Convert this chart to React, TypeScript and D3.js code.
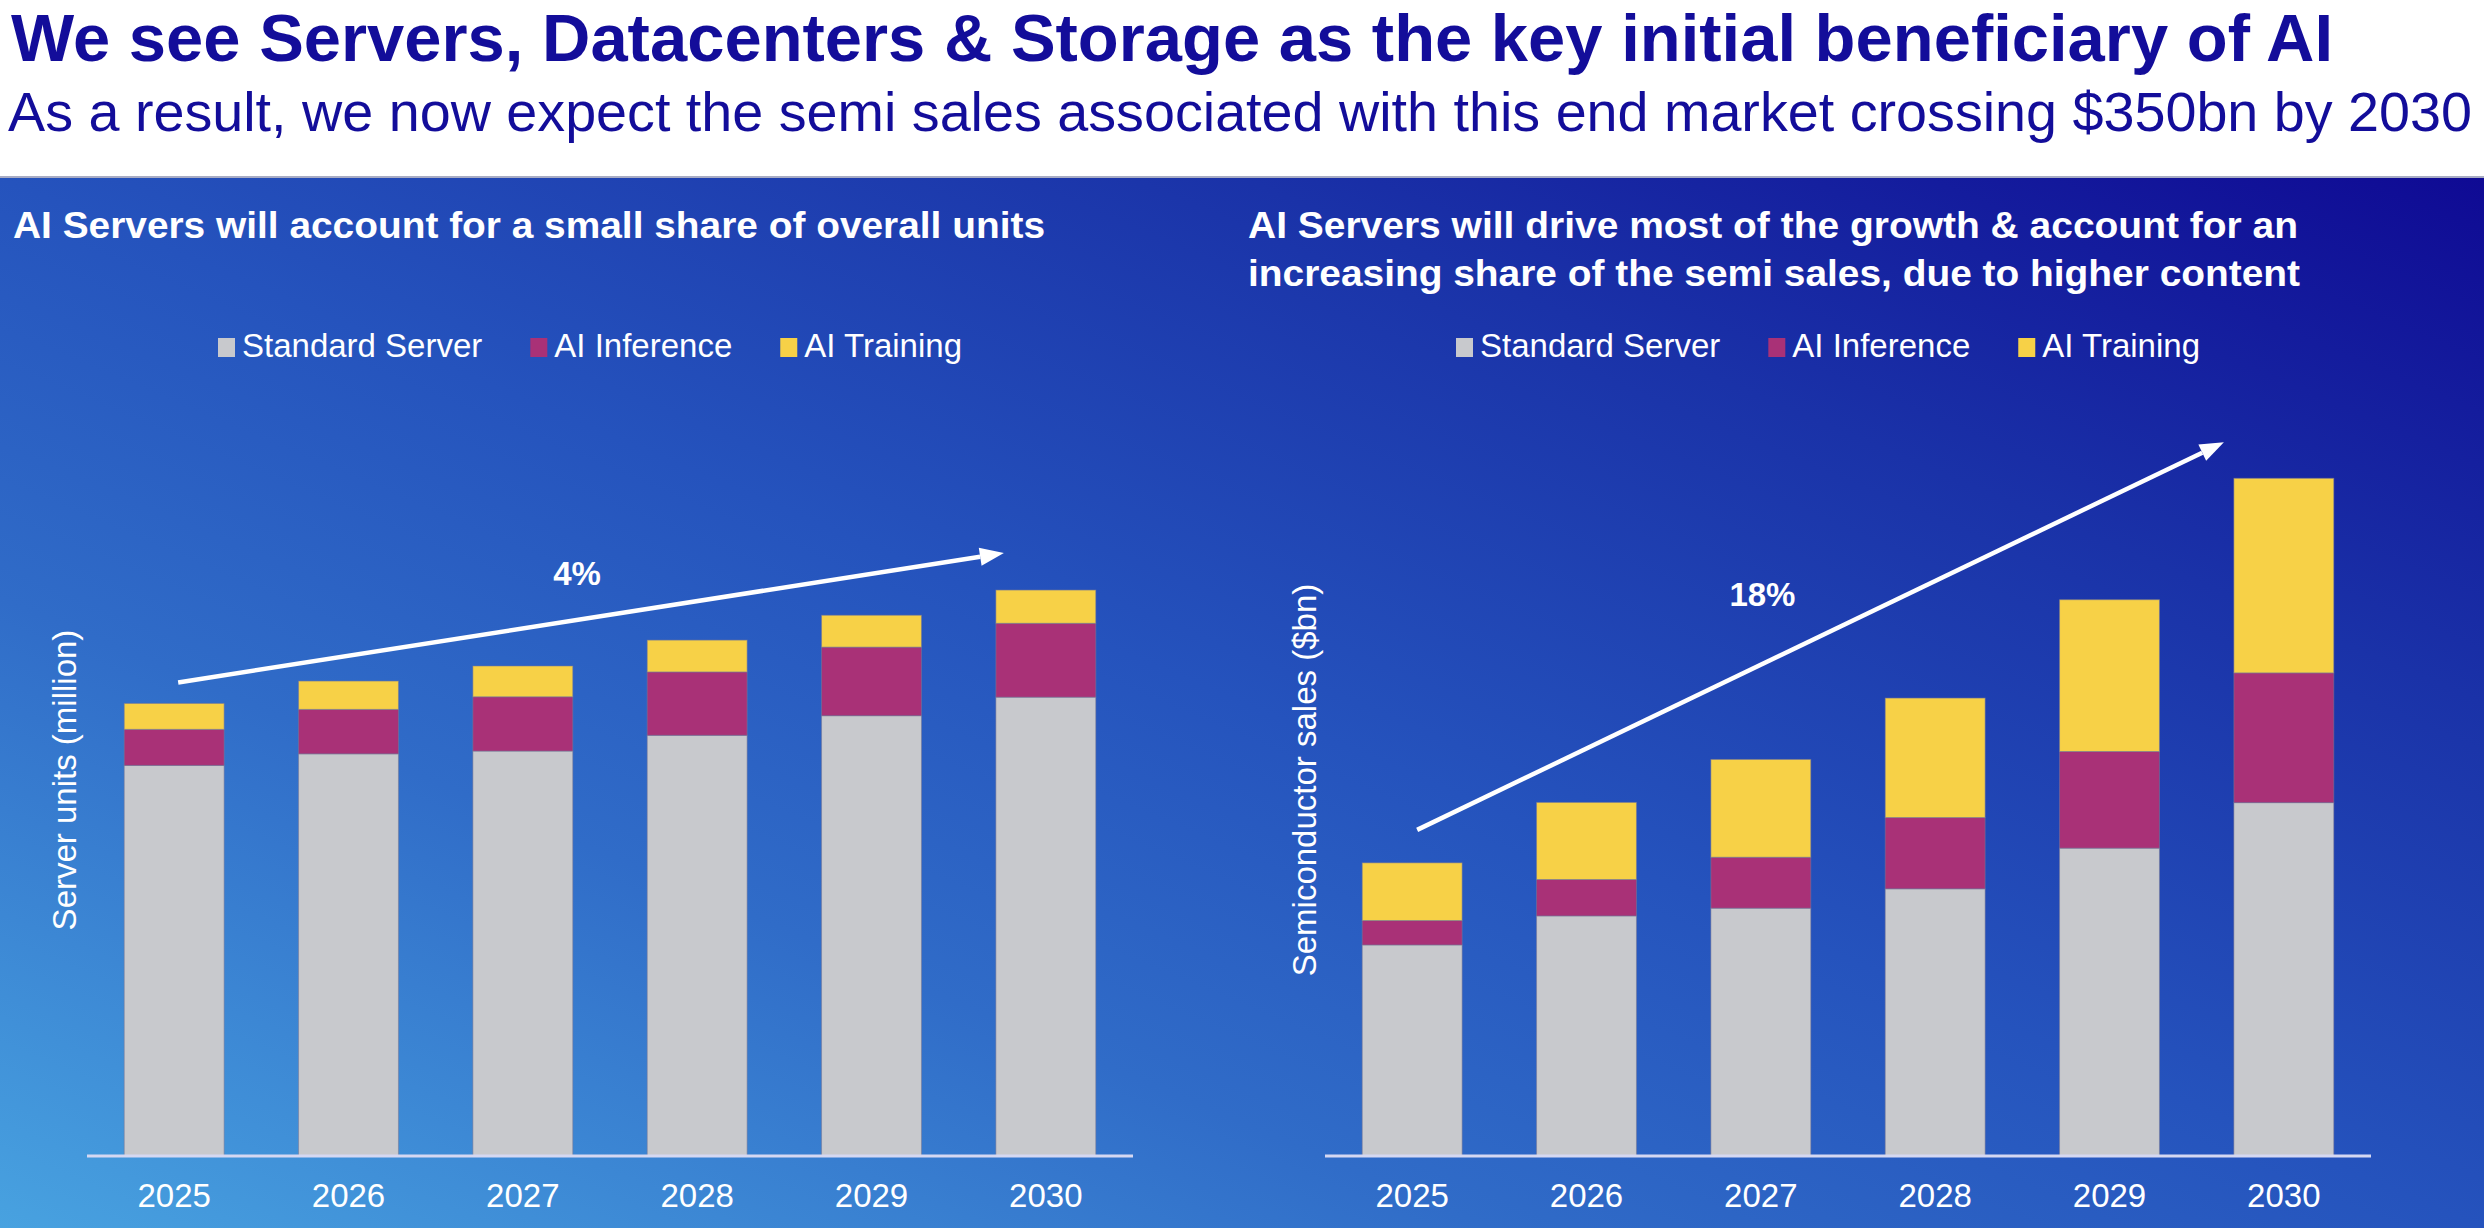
import { useEffect, useRef } from "react";
import * as d3 from "d3";

const W = 2484;
const H = 1228;

const years = ["2025", "2026", "2027", "2028", "2029", "2030"];
const seriesNames = ["Standard Server", "AI Inference", "AI Training"];
const seriesColors = ["#c8c9cd", "#a93177", "#f7d147"];

// Server units (million)
const unitsStandard = [11.16, 11.49, 11.57, 12.02, 12.58, 13.11];
const unitsInference = [1.03, 1.27, 1.55, 1.81, 1.96, 2.11];
const unitsTraining = [0.74, 0.81, 0.88, 0.91, 0.91, 0.95];

// Semiconductor sales ($bn)
const salesStandard = [109, 124, 128, 138, 159, 182.5];
const salesInference = [12.6, 18.8, 26.3, 36.8, 49.9, 67];
const salesTraining = [29.8, 39.8, 50.5, 61.7, 78.4, 100.5];

const FONT = "'Liberation Sans', Arial, Helvetica, sans-serif";

interface Panel {
  x0: number;
  x1: number;
  yMax: number;
  plotH: number;
  stacks: number[][];
  subtitle: [string, number][];
  subX: number;
  yLabel: string;
  yLabelX: number;
  cagr: string;
  arrowStart: [number, number];
  arrowEnd: [number, number];
  cagrPos: [number, number];
}

export default function App() {
  const svgRef = useRef<SVGSVGElement>(null);

  useEffect(() => {
    if (!svgRef.current) return;
    const svg = d3.select(svgRef.current);
    svg.selectAll("*").remove();

    const defs = svg.append("defs");
    const grad = defs
      .append("linearGradient")
      .attr("id", "bg")
      .attr("x1", 0)
      .attr("y1", 1)
      .attr("x2", 1)
      .attr("y2", 0);
    [
      [0, "#48a2e0"],
      [0.3, "#306cc8"],
      [0.5, "#2553bd"],
      [0.75, "#1a32a8"],
      [1, "#0f0a94"],
    ].forEach(([o, c]) =>
      grad.append("stop").attr("offset", o as number).attr("stop-color", c as string)
    );

    // header
    svg.append("rect").attr("width", W).attr("height", 178).attr("fill", "#fff");
    svg
      .append("rect")
      .attr("y", 178)
      .attr("width", W)
      .attr("height", H - 178)
      .attr("fill", "url(#bg)");
    svg
      .append("rect")
      .attr("y", 176)
      .attr("width", W)
      .attr("height", 2)
      .attr("fill", "#a8acc4");

    svg
      .append("text")
      .attr("x", 11)
      .attr("y", 61)
      .attr("font-family", FONT)
      .attr("font-weight", "bold")
      .attr("font-size", 67)
      .attr("textLength", 2322)
      .attr("lengthAdjust", "spacingAndGlyphs")
      .attr("fill", "#130d9a")
      .text("We see Servers, Datacenters & Storage as the key initial beneficiary of AI");
    svg
      .append("text")
      .attr("x", 8)
      .attr("y", 131)
      .attr("font-family", FONT)
      .attr("font-size", 55)
      .attr("textLength", 2464)
      .attr("lengthAdjust", "spacingAndGlyphs")
      .attr("fill", "#130d9a")
      .text(
        "As a result, we now expect the semi sales associated with this end market crossing $350bn by 2030"
      );

    const baseY = 1156;

    const panels: Panel[] = [
      {
        x0: 87,
        x1: 1133,
        yMax: 20,
        plotH: 700,
        stacks: [unitsStandard, unitsInference, unitsTraining],
        subtitle: [["AI Servers will account for a small share of overall units", 1032]],
        subX: 13,
        yLabel: "Server units (million)",
        yLabelX: 76,
        cagr: "4%",
        arrowStart: [4, -21],
        arrowEnd: [8, -37],
        cagrPos: [0.483, -46],
      },
      {
        x0: 1325,
        x1: 2371,
        yMax: 400,
        plotH: 774.5,
        stacks: [salesStandard, salesInference, salesTraining],
        subtitle: [
          ["AI Servers will drive most of the growth & account for an", 1050],
          ["increasing share of the semi sales, due to higher content", 1052],
        ],
        subX: 1248,
        yLabel: "Semiconductor sales ($bn)",
        yLabelX: 1316,
        cagr: "18%",
        arrowStart: [5, -33],
        arrowEnd: [-10, -36],
        cagrPos: [0.428, -70],
      },
    ];

    panels.forEach((p) => {
      const g = svg.append("g");

      const x = d3
        .scaleBand<string>()
        .domain(years)
        .range([p.x0, p.x1])
        .paddingInner(0.427)
        .paddingOuter(0.2135);
      const y = d3
        .scaleLinear()
        .domain([0, p.yMax])
        .range([baseY, baseY - p.plotH]);

      // panel subtitle
      p.subtitle.forEach(([line, len], i) => {
        g.append("text")
          .attr("x", p.subX)
          .attr("y", 238 + i * 48)
          .attr("font-family", FONT)
          .attr("font-weight", "bold")
          .attr("font-size", 37)
          .attr("textLength", len)
          .attr("lengthAdjust", "spacingAndGlyphs")
          .attr("fill", "#fff")
          .text(line);
      });

      // legend
      let lx = p.x0 + 131;
      seriesNames.forEach((name, i) => {
        g.append("rect")
          .attr("x", lx)
          .attr("y", 338)
          .attr("width", 17)
          .attr("height", 19)
          .attr("fill", seriesColors[i]);
        const t = g
          .append("text")
          .attr("x", lx + 24)
          .attr("y", 357)
          .attr("font-family", FONT)
          .attr("font-size", 33)
          .attr("fill", "#fff")
          .text(name);
        const tw = (t.node() as SVGTextElement).getComputedTextLength();
        lx += 24 + tw + 48;
      });

      // stacked bars
      const rows = years.map((yr, i) => {
        const r: Record<string, number | string> = { year: yr };
        seriesNames.forEach((s, k) => (r[s] = p.stacks[k][i]));
        return r;
      });
      const stacked = d3.stack<Record<string, number | string>>().keys(seriesNames)(
        rows as any
      );
      stacked.forEach((layer, k) => {
        g.selectAll(null)
          .data(layer)
          .join("rect")
          .attr("x", (d) => x(d.data.year as string)!)
          .attr("y", (d) => y(d[1]))
          .attr("width", x.bandwidth())
          .attr("height", (d) => y(d[0]) - y(d[1]))
          .attr("fill", seriesColors[k])
          .attr("stroke", "rgba(120,120,150,0.55)")
          .attr("stroke-width", 1);
      });

      // baseline
      g.append("line")
        .attr("x1", p.x0)
        .attr("x2", p.x1)
        .attr("y1", baseY)
        .attr("y2", baseY)
        .attr("stroke", "#d5d8f2")
        .attr("stroke-width", 3);

      // year labels
      g.selectAll(null)
        .data(years)
        .join("text")
        .attr("x", (d) => x(d)! + x.bandwidth() / 2)
        .attr("y", 1207)
        .attr("text-anchor", "middle")
        .attr("font-family", FONT)
        .attr("font-size", 33)
        .attr("fill", "#fff")
        .text((d) => d);

      // y axis title
      g.append("text")
        .attr("transform", `translate(${p.yLabelX},${780}) rotate(-90)`)
        .attr("text-anchor", "middle")
        .attr("font-family", FONT)
        .attr("font-size", 33)
        .attr("fill", "#fff")
        .text(p.yLabel);

      // growth arrow
      const totals = years.map((_, i) => d3.sum(p.stacks, (s) => s[i]));
      const first = years[0];
      const last = years[years.length - 1];
      const sx = x(first)! + x.bandwidth() / 2 + p.arrowStart[0];
      const sy = y(totals[0]) + p.arrowStart[1];
      const ex = x(last)! + p.arrowEnd[0];
      const ey = y(totals[totals.length - 1]) + p.arrowEnd[1];
      const ang = Math.atan2(ey - sy, ex - sx);
      const headL = 24;
      const headW = 9;
      const bx = ex - headL * Math.cos(ang);
      const by = ey - headL * Math.sin(ang);
      g.append("line")
        .attr("x1", sx)
        .attr("y1", sy)
        .attr("x2", bx)
        .attr("y2", by)
        .attr("stroke", "#fff")
        .attr("stroke-width", 4.5);
      const nx = -Math.sin(ang);
      const ny = Math.cos(ang);
      g.append("path")
        .attr(
          "d",
          `M${ex},${ey}L${bx + nx * headW},${by + ny * headW}L${bx - nx * headW},${
            by - ny * headW
          }Z`
        )
        .attr("fill", "#fff");

      const lt = p.cagrPos[0];
      g.append("text")
        .attr("x", sx + (ex - sx) * lt)
        .attr("y", sy + (ey - sy) * lt + p.cagrPos[1])
        .attr("dy", "0.35em")
        .attr("text-anchor", "middle")
        .attr("font-family", FONT)
        .attr("font-weight", "bold")
        .attr("font-size", 33)
        .attr("fill", "#fff")
        .text(p.cagr);
    });
  }, []);

  return (
    <svg
      ref={svgRef}
      width={W}
      height={H}
      style={{ position: "absolute", left: 0, top: 0, display: "block" }}
    />
  );
}
